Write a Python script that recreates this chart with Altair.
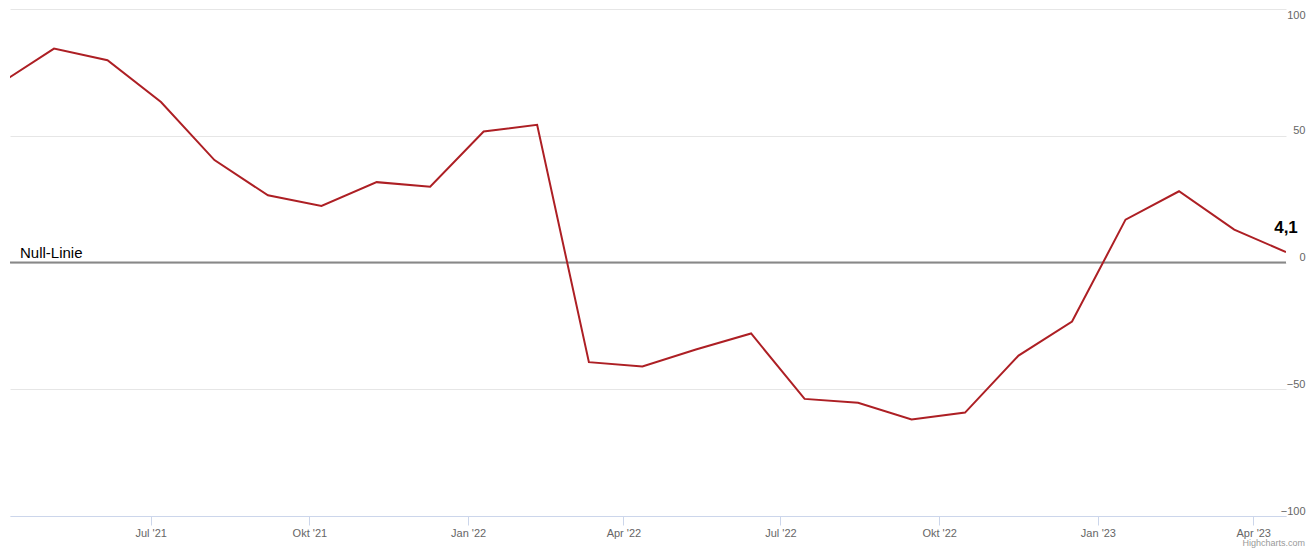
import altair as alt
import pandas as pd

# ---- data ----
dates = [
    "2021-04-05", "2021-05-06", "2021-06-06", "2021-07-07", "2021-08-07", "2021-09-07",
    "2021-10-08", "2021-11-09", "2021-12-10", "2022-01-10", "2022-02-10", "2022-03-12",
    "2022-04-12", "2022-05-13", "2022-06-14", "2022-07-15", "2022-08-15", "2022-09-15",
    "2022-10-16", "2022-11-16", "2022-12-17", "2023-01-17", "2023-02-17", "2023-03-21",
    "2023-04-20",
]
values = [
    70.7, 84.4, 79.8, 63.3, 40.4, 26.5, 22.3, 31.7, 29.9, 51.7, 54.3, -39.3,
    -41.0, -34.3, -28.0, -53.8, -55.3, -61.9, -59.2, -36.7, -23.3, 16.9, 28.1, 13.0,
    4.1,
]
tick_dates = [(2021, 7), (2021, 10), (2022, 1), (2022, 4), (2022, 7), (2022, 10), (2023, 1), (2023, 4)]
month_names = ["Jan", "Feb", "Mär", "Apr", "Mai", "Jun", "Jul", "Aug", "Sep", "Okt", "Nov", "Dez"]
y_ticks = [-100, -50, 0, 50, 100]
null_label = "Null-Linie"
credit = "Highcharts.com"

df = pd.DataFrame({"date": dates, "value": values})
last = df.tail(1)

x_domain = [alt.DateTime(year=2021, month=4, date=10, hours=12, utc=True),
            alt.DateTime(year=2023, month=4, date=20, utc=True)]
x_scale = alt.Scale(type="utc", domain=x_domain)
y_scale = alt.Scale(domain=[-100, 100], nice=False, zero=False)

names_js = "[" + ",".join("'%s'" % m for m in month_names) + "]"
label_expr = names_js + "[utcmonth(datum.value)] + \" '\" + utcFormat(datum.value, '%y')"

x_axis = alt.Axis(
    values=[alt.DateTime(year=y, month=m, date=1, utc=True) for y, m in tick_dates],
    labelExpr=label_expr, grid=False, domainColor="#ccd6eb", tickColor="#ccd6eb",
    tickSize=9, labelPadding=2, labelFontSize=11, labelColor="#666666",
    labelFont="Liberation Sans", title=None, labelFlush=False,
)
y_axis = alt.Axis(
    orient="right", values=y_ticks, domain=False, ticks=False, grid=True,
    gridColor="#e6e6e6", labelAlign="right", labelPadding=19,
    labelBaseline={"condition": {"test": "datum.value >= 100", "value": "top"}, "value": "bottom"},
    labelFontSize=11, labelColor="#666666", labelFont="Liberation Sans", title=None,
    labelFlush=False,
)

base = alt.Chart(df)

line = base.mark_line(color="#ad1f24", strokeWidth=2, clip=True).encode(
    x=alt.X("date:T", scale=x_scale, axis=x_axis),
    y=alt.Y("value:Q", scale=y_scale, axis=y_axis),
)

zero = alt.Chart(pd.DataFrame({"v": [0]})).mark_rule(color="#888888", strokeWidth=2).encode(
    y=alt.Y("v:Q", scale=y_scale),
)

zero_text = alt.Chart(pd.DataFrame({"v": [0], "t": [null_label]})).mark_text(
    align="left", baseline="alphabetic", dy=-5, fontSize=15, font="Liberation Sans", color="#000000"
).encode(
    x=alt.value(10),
    y=alt.Y("v:Q", scale=y_scale),
    text="t:N",
)

last_label = alt.Chart(last).transform_calculate(
    lbl="replace(format(datum.value, '.1f'), '.', ',')"
).mark_text(
    align="center", baseline="middle", dy=-24, fontSize=17, fontWeight="bold",
    font="Liberation Sans", color="#000000"
).encode(
    x=alt.X("date:T", scale=x_scale),
    y=alt.Y("value:Q", scale=y_scale),
    text="lbl:N",
)

credit_text = alt.Chart(pd.DataFrame({"t": [credit]})).mark_text(
    align="right", baseline="middle", fontSize=9, font="Liberation Sans", color="#999999"
).encode(
    x=alt.value(1295), y=alt.value(534), text="t:N",
)

chart = alt.layer(zero, line, zero_text, last_label, credit_text).properties(
    width=1276, height=507,
    autosize=alt.AutoSizeParams(type="none"),
    padding={"left": 2, "top": 1, "right": 22, "bottom": 34},
).configure_view(stroke=None)

chart.save("out.html", embed_options={"renderer": "svg", "actions": False})
